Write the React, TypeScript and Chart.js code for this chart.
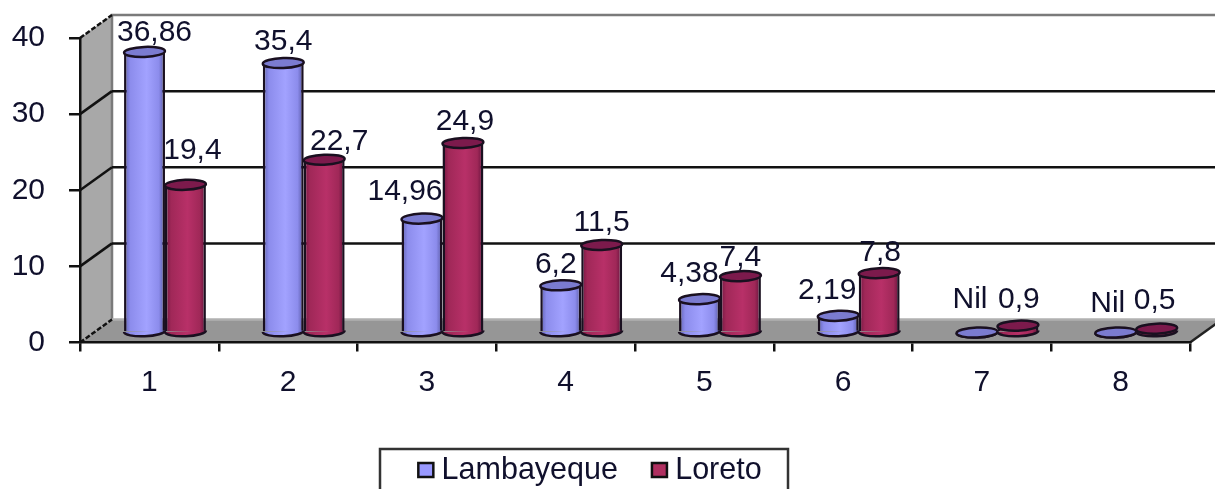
import React, { useEffect, useRef } from "react";
import { Chart, registerables } from "chart.js";

Chart.register(...registerables);

const categories = ["1", "2", "3", "4", "5", "6", "7", "8"];
const seriesNames = ["Lambayeque", "Loreto"];
const lambayeque = [36.86, 35.4, 14.96, 6.2, 4.38, 2.19, 0, 0];
const loreto = [19.4, 22.7, 24.9, 11.5, 7.4, 7.8, 0.9, 0.5];
const lambayequeLabels = ["36,86", "35,4", "14,96", "6,2", "4,38", "2,19", "Nil", "Nil"];
const loretoLabels = ["19,4", "22,7", "24,9", "11,5", "7,4", "7,8", "0,9", "0,5"];
const yTicks = { min: 0, max: 40, step: 10 };

// label nudges relative to the top of each cylinder
const labelNudges = [
  [[10, -19], [0, -21], [-17, -27], [-5, -21], [-10, -25], [-11, -25], [-7, -33], [-8, -29]],
  [[7, -34], [15, -18], [2, -21], [0, -22], [0, -18], [1, -20], [1, -26], [-2, -28]],
];

const FONT = "'Liberation Sans', Arial, sans-serif";
const FS = 30;
const TEXT = "#10102c";
const DEPTH = { x: 32, y: -23 };
const BAR_SHIFT = { x: 15.6, y: -10 };
const RY = 5;
const TILT = -0.04;
const CAT_PCT = 0.59;
const PLOT_TOP = 38;
const STOPS = [
  ["#5f5fb0", "#8c8cec", "#a2a2ff", "#8c8cec", "#5555a0"],
  ["#701540", "#a02858", "#b83068", "#a02858", "#60103a"],
];
const CAPS = ["#7b7bd0", "#7c1a4c"];
const SWATCH = ["#9999ff", "#b03060"];
const LEGEND_SHIFT = { x: -5, y: 7 };

function gradientFor(c: any, seriesIdx: number) {
  const chart = c.chart;
  const xs = chart.scales.x;
  if (!xs || c.dataIndex === undefined) return SWATCH[seriesIdx];
  const center = xs.getPixelForValue(c.dataIndex);
  const w = (xs.width / categories.length) * CAT_PCT * 0.5;
  const left = seriesIdx === 0 ? center - w : center;
  const g = chart.ctx.createLinearGradient(left, 0, left + w, 0);
  const pos = [0, 0.15, 0.55, 0.85, 1];
  STOPS[seriesIdx].forEach((col, i) => g.addColorStop(pos[i], col));
  return g;
}

const scene3d = {
  id: "scene3d",
  beforeDraw(chart: any) {
    const { ctx } = chart;
    const ys = chart.scales.y;
    const xs = chart.scales.x;
    const L = xs.left, R = xs.right;
    const y0 = ys.getPixelForValue(0), yT = ys.getPixelForValue(40);
    ctx.save();
    // side wall
    ctx.fillStyle = "#a8a8a8";
    ctx.beginPath();
    ctx.moveTo(L, yT); ctx.lineTo(L + DEPTH.x, yT + DEPTH.y);
    ctx.lineTo(L + DEPTH.x, y0 + DEPTH.y); ctx.lineTo(L, y0);
    ctx.closePath(); ctx.fill();
    // floor
    ctx.fillStyle = "#969696";
    ctx.beginPath();
    ctx.moveTo(L, y0); ctx.lineTo(L + DEPTH.x, y0 + DEPTH.y);
    ctx.lineTo(R + DEPTH.x, y0 + DEPTH.y); ctx.lineTo(R, y0);
    ctx.closePath(); ctx.fill();
    // back wall edges
    ctx.strokeStyle = "#7a7a7a";
    ctx.lineWidth = 2.5;
    ctx.beginPath();
    ctx.moveTo(L + DEPTH.x, y0 + DEPTH.y); ctx.lineTo(L + DEPTH.x, yT + DEPTH.y);
    ctx.lineTo(R + DEPTH.x, yT + DEPTH.y);
    ctx.stroke();
    ctx.strokeStyle = "#b0b0b0";
    ctx.beginPath();
    ctx.moveTo(L + DEPTH.x, y0 + DEPTH.y); ctx.lineTo(R + DEPTH.x, y0 + DEPTH.y);
    ctx.stroke();
    // grid lines
    ctx.strokeStyle = "#111";
    ctx.lineWidth = 2.5;
    for (let v = yTicks.min; v <= yTicks.max; v += yTicks.step) {
      const py = ys.getPixelForValue(v);
      ctx.setLineDash(v === yTicks.max || v === yTicks.min ? [5, 2] : []);
      ctx.beginPath();
      ctx.moveTo(L, py); ctx.lineTo(L + DEPTH.x, py + DEPTH.y);
      ctx.stroke();
      ctx.setLineDash([]);
      if (v > yTicks.min && v < yTicks.max) {
        ctx.beginPath();
        ctx.moveTo(L + DEPTH.x, py + DEPTH.y); ctx.lineTo(R + DEPTH.x, py + DEPTH.y);
        ctx.stroke();
      }
    }
    ctx.strokeStyle = "#222";
    ctx.beginPath();
    ctx.moveTo(R, y0); ctx.lineTo(R + DEPTH.x, y0 + DEPTH.y);
    ctx.stroke();
    ctx.restore();
  },
  beforeDatasetsDraw(chart: any) {
    chart.ctx.save();
    chart.ctx.translate(BAR_SHIFT.x, BAR_SHIFT.y);
  },
  afterDatasetDraw(chart: any, args: any) {
    const { ctx } = chart;
    const si = args.index;
    const meta = args.meta;
    meta.data.forEach((el: any, i: number) => {
      const rw = el.width / 2;
      const fill = gradientFor({ chart, dataIndex: i }, si);
      ctx.save();
      ctx.lineWidth = 2.5;
      ctx.strokeStyle = "#1a1020";
      // bottom of the cylinder
      ctx.beginPath();
      ctx.ellipse(el.x, el.base, rw, RY, TILT, 0, Math.PI);
      ctx.fillStyle = fill;
      ctx.fill();
      ctx.stroke();
      // top of the cylinder
      ctx.beginPath();
      ctx.ellipse(el.x, el.y, rw, RY, TILT, 0, Math.PI * 2);
      ctx.fillStyle = CAPS[si];
      ctx.fill();
      ctx.stroke();
      ctx.restore();
    });
  },
  afterDatasetsDraw(chart: any) {
    const { ctx } = chart;
    ctx.restore();
    ctx.save();
    ctx.font = `${FS}px ${FONT}`;
    ctx.fillStyle = TEXT;
    ctx.textAlign = "center";
    ctx.textBaseline = "middle";
    [lambayequeLabels, loretoLabels].forEach((labels, si) => {
      const meta = chart.getDatasetMeta(si);
      labels.forEach((t, i) => {
        const el = meta.data[i];
        const [nx, ny] = labelNudges[si][i];
        ctx.fillText(t, el.x + BAR_SHIFT.x + nx, el.y + BAR_SHIFT.y + ny);
      });
    });
    ctx.restore();
  },
  afterDraw(chart: any) {
    const { ctx } = chart;
    const lg = chart.legend;
    ctx.save();
    ctx.strokeStyle = "#333";
    ctx.lineWidth = 2.5;
    ctx.strokeRect(380, 449, 408, 60);
    lg.legendHitBoxes.forEach((b: any, i: number) => {
      ctx.fillStyle = SWATCH[i];
      ctx.lineWidth = 2.5;
      ctx.strokeStyle = "#111";
      ctx.fillRect(b.left, 463, 15, 14);
      ctx.strokeRect(b.left, 463, 15, 14);
    });
    ctx.restore();
  },
  afterLayout(chart: any) {
    const lg = chart.legend;
    lg.left += LEGEND_SHIFT.x; lg.right += LEGEND_SHIFT.x;
    lg.top += LEGEND_SHIFT.y; lg.bottom += LEGEND_SHIFT.y;
    if (lg.legendHitBoxes) lg.legendHitBoxes.forEach((b: any) => { b.left += LEGEND_SHIFT.x; });
    const ys = chart.scales.y;
    ys.top = PLOT_TOP;
    ys.height = ys.bottom - PLOT_TOP;
    ys.configure();
    chart.chartArea.top = PLOT_TOP;
    chart.chartArea.height = chart.chartArea.bottom - PLOT_TOP;
  },
};

export default function App() {
  const ref = useRef<HTMLCanvasElement>(null);
  useEffect(() => {
    document.body.style.margin = "0";
    const chart = new Chart(ref.current as HTMLCanvasElement, {
      type: "bar",
      data: {
        labels: categories,
        datasets: [lambayeque, loreto].map((data, si) => ({
          label: seriesNames[si],
          data,
          backgroundColor: (c: any) => gradientFor(c, si),
          borderColor: "#1a1020",
          borderWidth: { left: 2.5, right: 2.5, top: 0, bottom: 0 },
          borderSkipped: false,
          barPercentage: 1,
          categoryPercentage: CAT_PCT,
        })),
      },
      options: {
        responsive: false,
        animation: false,
        layout: { padding: { top: 34, right: 25, left: 0, bottom: 0 } },
        plugins: {
          tooltip: { enabled: false },
          legend: {
            position: "bottom",
            labels: {
              font: { family: FONT, size: 30.5 },
              color: TEXT,
              boxWidth: 8,
              boxHeight: 8,
              padding: 34,
              generateLabels: () =>
                seriesNames.map((text, i) => ({
                  text,
                  fillStyle: "rgba(0,0,0,0)",
                  strokeStyle: "rgba(0,0,0,0)",
                  lineWidth: 0,
                  datasetIndex: i,
                  fontColor: TEXT,
                })),
            },
          },
        },
        scales: {
          x: {
            afterFit: (s: any) => { s.height = 72; },
            grid: { offset: true, drawOnChartArea: false, color: "#111", lineWidth: 2.5, tickLength: 9 },
            border: { color: "#111", width: 2.5 },
            ticks: { font: { family: FONT, size: FS }, color: TEXT, padding: 13, maxRotation: 0 },
          },
          y: {
            min: yTicks.min,
            max: yTicks.max,
            afterFit: (s: any) => { s.width = 80; },
            grid: { drawOnChartArea: false, color: "#111", lineWidth: 2.5, tickLength: 11 },
            border: { color: "#111", width: 2.5 },
            ticks: { stepSize: yTicks.step, font: { family: FONT, size: FS }, color: TEXT, padding: 24 },
          },
        },
      },
      plugins: [scene3d],
    } as any);
    return () => chart.destroy();
  }, []);
  return (
    <canvas
      ref={ref}
      width={1215}
      height={489}
      style={{ display: "block", filter: "blur(0.7px)" }}
    />
  );
}
